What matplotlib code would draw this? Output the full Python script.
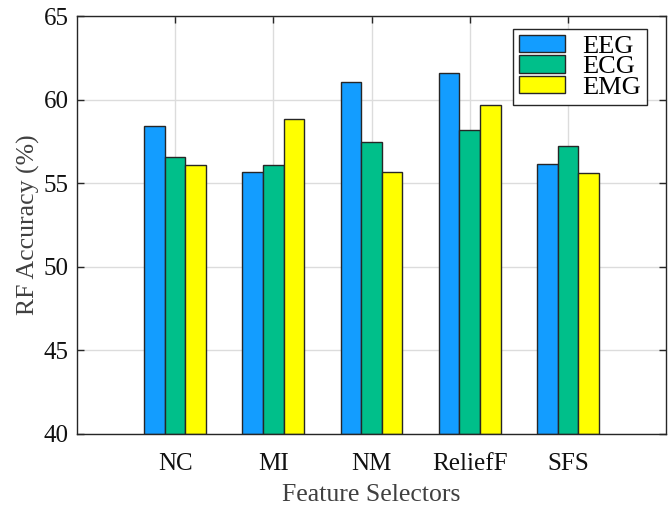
import numpy as np
import matplotlib
matplotlib.use("Agg")
import matplotlib.pyplot as plt

plt.rcParams['font.family'] = ['Liberation Serif', 'DejaVu Serif']

selectors = ['NC', 'MI', 'NM', 'ReliefF', 'SFS']
eeg = [58.45, 55.67, 61.03, 61.57, 56.17]
ecg = [56.59, 56.11, 57.45, 58.20, 57.25]
emg = [56.09, 58.86, 55.69, 59.68, 55.63]

series = [('EEG', eeg, '#139dff'), ('ECG', ecg, '#00bf8a'), ('EMG', emg, '#ffff00')]

fig = plt.figure(figsize=(6.68, 5.08), dpi=100)
ax = fig.add_axes([0.1153, 0.1457, 0.8817, 0.8228])

x = np.arange(1, len(selectors) + 1)
w = 0.21
for i, (name, vals, col) in enumerate(series):
    ax.bar(x + (i - 1) * w, np.array(vals) - 40, w, bottom=40, color=col,
           edgecolor='#262626', linewidth=1.0, label=name, zorder=3)

ax.set_xlim(0, 6)
ax.set_ylim(40, 65)
ax.set_xticks(x)
ax.set_xticklabels(selectors)
ax.set_yticks(np.arange(40, 66, 5))
ax.grid(True, color='#dcdcdc', linewidth=1.0, zorder=0)
ax.set_axisbelow(True)

ax.tick_params(direction='in', top=True, right=True, length=5, width=1,
               color='#262626', labelsize=18, labelcolor='#111111')
ax.tick_params(axis='x', pad=14)
ax.tick_params(axis='y', pad=6)
for s in ax.spines.values():
    s.set_color('#262626')
    s.set_linewidth(1.0)
    s.set_zorder(5)

ax.set_xlabel('Feature Selectors', fontsize=18.5, color='#404040', labelpad=6)
ax.set_ylabel('RF Accuracy (%)', fontsize=18.5, color='#404040', labelpad=3)

leg = ax.legend(loc='upper right', bbox_to_anchor=(0.9677, 0.969),
                fontsize=19, fancybox=False, framealpha=1,
                edgecolor='#262626', borderpad=0.22, labelspacing=-0.1,
                handlelength=1.75, handleheight=0.65, handletextpad=0.65,
                borderaxespad=0)
leg.get_frame().set_linewidth(1.0)

fig.savefig('out.png', dpi=100)
